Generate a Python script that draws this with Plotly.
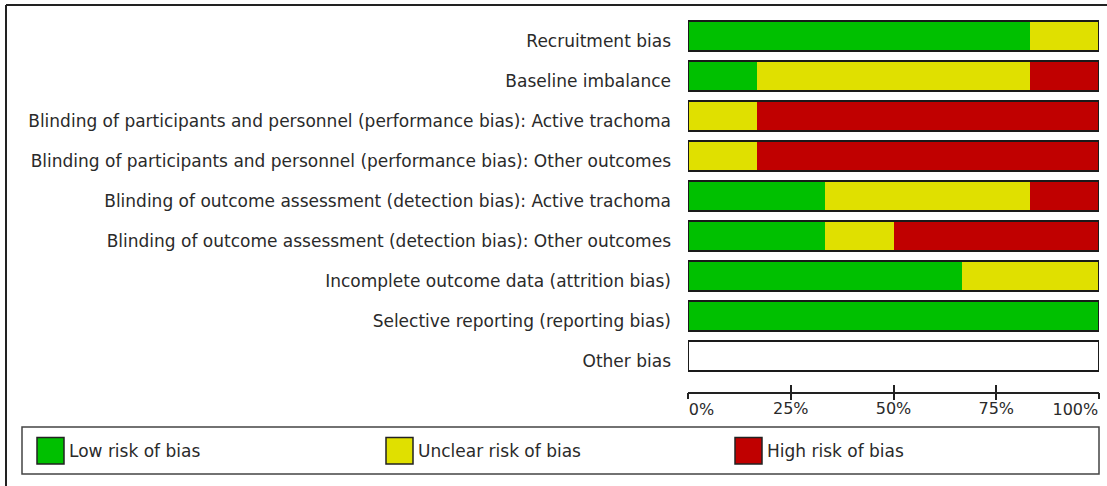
import plotly.graph_objects as go

domains = [
    "Recruitment bias",
    "Baseline imbalance",
    "Blinding of participants and personnel (performance bias): Active trachoma",
    "Blinding of participants and personnel (performance bias): Other outcomes",
    "Blinding of outcome assessment (detection bias): Active trachoma",
    "Blinding of outcome assessment (detection bias): Other outcomes",
    "Incomplete outcome data (attrition bias)",
    "Selective reporting (reporting bias)",
    "Other bias",
]
low_risk = [83.3, 16.7, 0, 0, 33.3, 33.3, 66.7, 100, 0]
unclear_risk = [16.7, 66.6, 16.7, 16.7, 50.0, 16.7, 33.3, 0, 0]
high_risk = [0, 16.7, 83.3, 83.3, 16.7, 50.0, 0, 0, 0]
series_names = ["Low risk of bias", "Unclear risk of bias", "High risk of bias"]
series_colors = ["#00C000", "#E0E000", "#C00000"]
tick_vals = [0, 25, 50, 75, 100]
tick_text = ["0%", "25%", "50%", "75%", "100%"]

W, H = 1107, 486
L, R, T, B = 688, 8, 16, 94
FONT = "DejaVu Sans"
FS = 17
TXT = "#2a2a2a"

rows = list(range(len(domains)))
fig = go.Figure()
base = [0.0] * len(domains)
for name, vals, col in zip(series_names, [low_risk, unclear_risk, high_risk], series_colors):
    fig.add_trace(go.Bar(
        y=rows, x=vals, base=list(base), orientation="h", name=name,
        marker=dict(color=col, line=dict(width=0)), width=0.77,
        showlegend=False, hoverinfo="skip",
    ))
    base = [b + v for b, v in zip(base, vals)]

# outline of each full bar
fig.add_trace(go.Bar(
    y=rows, x=[100] * len(domains), base=[0] * len(domains), orientation="h",
    marker=dict(color="rgba(0,0,0,0)", line=dict(color="#1a1a1a", width=2)),
    width=0.77, showlegend=False, hoverinfo="skip",
))
# helper traces so the extra axes are drawn
for ax in ["x2", "x3", "x4"]:
    fig.add_trace(go.Scatter(x=[0, 100], y=[0, 0], xaxis=ax, mode="markers",
                             marker=dict(opacity=0), showlegend=False, hoverinfo="skip"))

pw = W - L - R
ph = H - T - B
def px(x):
    return (x - L) / pw
def py(y):
    return 1 - (y - T) / ph

shapes = []
# outer frame (crop of a larger image)
shapes.append(dict(type="line", xref="paper", yref="paper", x0=px(6), x1=px(1107), y0=py(5), y1=py(5),
                   line=dict(color="#222", width=2)))
shapes.append(dict(type="line", xref="paper", yref="paper", x0=px(6), x1=px(6), y0=py(5), y1=py(486),
                   line=dict(color="#222", width=2)))
# legend box
shapes.append(dict(type="rect", xref="paper", yref="paper", x0=px(22), x1=px(1099), y0=py(427), y1=py(474),
                   line=dict(color="#444", width=1.5), fillcolor="white"))
annotations = []
for i, (name, col) in enumerate(zip(series_names, series_colors)):
    x0 = 37 + i * 349
    shapes.append(dict(type="rect", xref="paper", yref="paper", x0=px(x0), x1=px(x0 + 27),
                       y0=py(437.5), y1=py(464), line=dict(color="#222", width=1.5), fillcolor=col))
    annotations.append(dict(xref="paper", yref="paper", x=px(x0 + 30), y=py(451), text=name,
                            showarrow=False, xanchor="left", yanchor="middle",
                            font=dict(family=FONT, size=FS, color=TXT)))

tickfont = dict(family=FONT, size=FS - 1, color=TXT)
common = dict(range=[0, 100], showgrid=False, zeroline=False, fixedrange=True, automargin=False)
tick_style = dict(tickcolor="#222", tickwidth=1.5)

fig.update_layout(
    width=W, height=H, margin=dict(l=L, r=R, t=T, b=B, autoexpand=False),
    paper_bgcolor="white", plot_bgcolor="white",
    barmode="overlay", bargap=0,
    font=dict(family=FONT, size=FS, color=TXT),
    # main axis: line, downward ticks, centred middle labels
    xaxis=dict(**common, **tick_style, tickvals=tick_vals[1:-1], ticktext=tick_text[1:-1],
               showline=True, linecolor="#222", linewidth=1.5, ticks="outside", ticklen=6,
               tickfont=tickfont, ticklabelstandoff=-5),
    # upward ticks at every tick value
    xaxis2=dict(**common, **tick_style, overlaying="x", side="bottom", anchor="y", tickvals=tick_vals,
                showticklabels=False, ticks="inside", ticklen=7, showline=False),
    # first label starts at its tick
    xaxis3=dict(**common, **tick_style, overlaying="x", side="bottom", anchor="y", tickvals=tick_vals[:1],
                ticktext=tick_text[:1], ticks="outside", ticklen=6, showline=False, tickfont=tickfont,
                ticklabelposition="outside right", ticklabelstandoff=3),
    # last label ends at its tick
    xaxis4=dict(**common, **tick_style, overlaying="x", side="bottom", anchor="y", tickvals=tick_vals[-1:],
                ticktext=tick_text[-1:], ticks="outside", ticklen=6, showline=False, tickfont=tickfont,
                ticklabelposition="outside left", ticklabelstandoff=3),
    yaxis=dict(range=[8.9, -0.5], tickvals=rows, ticktext=domains, showgrid=False, zeroline=False,
               showline=False, ticks="", ticklabelstandoff=16, ticklabelshift=-5,
               tickfont=dict(family=FONT, size=FS, color=TXT), fixedrange=True, automargin=False),
    shapes=shapes, annotations=annotations,
)
fig.write_html("out.html", config={"displayModeBar": False},
               post_script="document.body.style.margin='0';document.body.style.padding='0';document.body.style.overflow='hidden';")
